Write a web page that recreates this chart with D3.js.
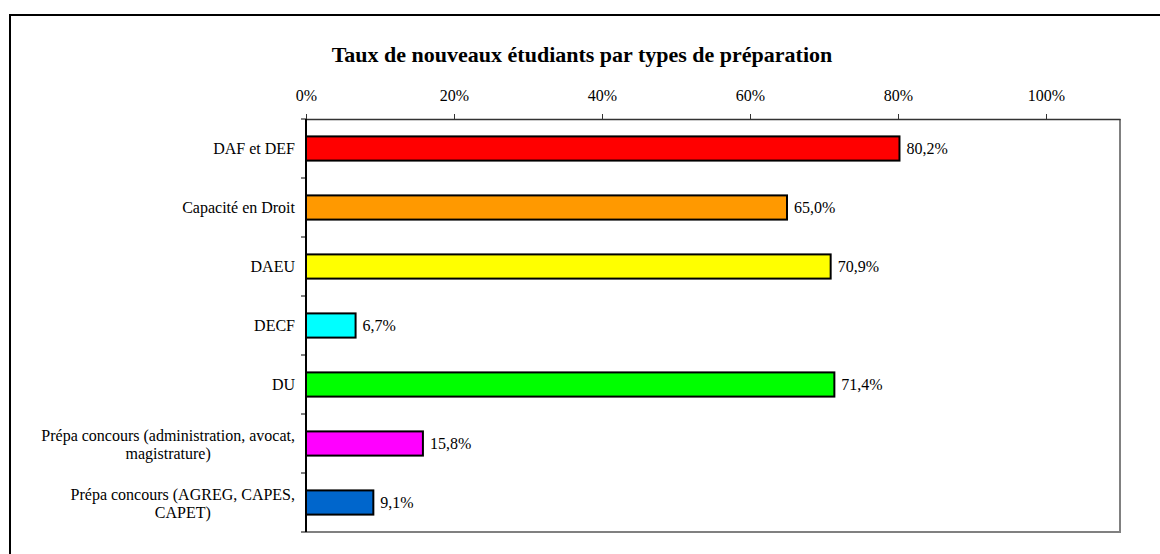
<!DOCTYPE html>
<html>
<head>
<meta charset="utf-8">
<script src="https://cdn.jsdelivr.net/npm/d3@7"></script>
<style>
  body { margin: 0; background: #fff; }
  text { font-family: "Liberation Serif", "Times New Roman", serif; }
</style>
</head>
<body>
<div id="chart"></div>
<script>
// Data
const categories = [
    ["DAF et DEF"],
    ["Capacité en Droit"],
    ["DAEU"],
    ["DECF"],
    ["DU"],
    ["Prépa concours (administration, avocat,", "magistrature)"],
    ["Prépa concours (AGREG, CAPES,", "CAPET)"],
];
const values = [0.802, 0.65, 0.709, 0.067, 0.714, 0.158, 0.091];
const value_labels = ["80,2%", "65,0%", "70,9%", "6,7%", "71,4%", "15,8%", "9,1%"];
const colors = ["#ff0000", "#ff9900", "#ffff00", "#00ffff", "#00ff00", "#ff00ff", "#0066cc"];
const x_ticks = [0, 0.2, 0.4, 0.6, 0.8, 1.0];

let width = 1160;
let height = 554;

let margin = { top: 119, bottom: 22, left: 306, right: 40 };

const font = "Liberation Serif, Times New Roman, serif";

let svg = d3
    .select("#chart")
    .append("svg")
    .attr("width", width)
    .attr("height", height);

// Outer frame (runs off the picture at right and bottom)
svg.append("rect")
    .attr("x", 10)
    .attr("y", 15)
    .attr("width", 1170)
    .attr("height", 560)
    .attr("fill", "none")
    .attr("stroke", "#000")
    .attr("stroke-width", 2);

// Title
svg.append("text")
    .attr("x", 582)
    .attr("y", 62)
    .attr("text-anchor", "middle")
    .style("font-family", font)
    .style("font-size", "22px")
    .style("font-weight", "bold")
    .text("Taux de nouveaux étudiants par types de préparation");

let x_scale = d3
    .scaleLinear()
    .domain([0, 1.1])
    .range([margin.left, width - margin.right]);

let y_scale = d3
    .scaleBand()
    .domain(d3.range(categories.length))
    .range([margin.top, height - margin.bottom])
    .paddingInner(0.59)
    .paddingOuter(0.295);

// Plot area border: grey right and bottom
svg.append("path")
    .attr("d", "M" + x_scale.range()[1] + "," + margin.top +
        "V" + (height - margin.bottom) + "H" + margin.left)
    .attr("fill", "none")
    .attr("stroke", "#808080")
    .attr("stroke-width", 2);

// Top axis
let x_axis = svg.append("g")
    .attr("transform", "translate(0," + margin.top + ")")
    .call(d3.axisTop(x_scale)
        .tickValues(x_ticks)
        .tickFormat(d3.format(".0%"))
        .tickSize(5)
        .tickSizeOuter(0)
        .tickPadding(13));
x_axis.select(".domain").attr("stroke", "#333").attr("stroke-width", 1.5);
x_axis.selectAll(".tick line").attr("stroke", "#333");
x_axis.selectAll("text")
    .style("font-family", font)
    .style("font-size", "16px")
    .attr("fill", "#000");

// Left axis: ticks at category boundaries
let bounds = d3.range(categories.length + 1).map((i) =>
    margin.top + i * (height - margin.bottom - margin.top) / categories.length);
svg.append("line")
    .attr("x1", margin.left).attr("x2", margin.left)
    .attr("y1", margin.top).attr("y2", height - margin.bottom)
    .attr("stroke", "#000")
    .attr("stroke-width", 2);
svg.selectAll(".ytick")
    .data(bounds)
    .enter()
    .append("line")
    .attr("x1", margin.left - 5).attr("x2", margin.left)
    .attr("y1", (d) => d).attr("y2", (d) => d)
    .attr("stroke", "#000")
    .attr("stroke-width", 1);

// Bars
svg.selectAll(".bar")
    .data(values)
    .enter()
    .append("rect")
    .attr("x", x_scale(0))
    .attr("y", (d, i) => y_scale(i))
    .attr("width", (d) => x_scale(d) - x_scale(0))
    .attr("height", y_scale.bandwidth())
    .attr("fill", (d, i) => colors[i])
    .attr("stroke", "#000")
    .attr("stroke-width", 2);

// Value labels
svg.selectAll(".val")
    .data(values)
    .enter()
    .append("text")
    .attr("x", (d) => x_scale(d) + 7)
    .attr("y", (d, i) => y_scale(i) + y_scale.bandwidth() / 2)
    .attr("dy", "0.35em")
    .style("font-family", font)
    .style("font-size", "16px")
    .text((d, i) => value_labels[i]);

// Category labels, lines centred, block right-aligned
const label_right = 295;
const line_h = 18.5;
categories.forEach((lines, i) => {
    let cy = y_scale(i) + y_scale.bandwidth() / 2 + (lines.length > 1 ? 1 : 0);
    let t = svg.append("text")
        .attr("text-anchor", "middle")
        .style("font-family", font)
        .style("font-size", "16px");
    lines.forEach((ln, j) => {
        t.append("tspan")
            .attr("y", cy + (j - (lines.length - 1) / 2) * line_h)
            .attr("dy", "0.35em")
            .text(ln);
    });
    let w = d3.max(t.selectAll("tspan").nodes(), (n) => n.getComputedTextLength());
    t.selectAll("tspan").attr("x", label_right - w / 2);
});
</script>
</body>
</html>
